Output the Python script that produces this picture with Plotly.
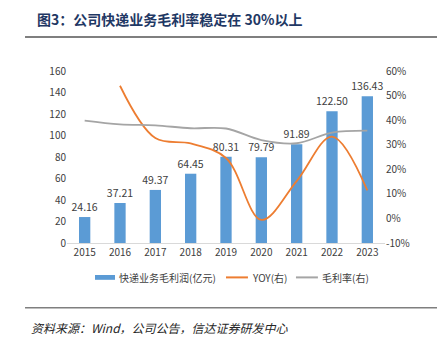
import plotly.graph_objects as go

years = ["2015", "2016", "2017", "2018", "2019", "2020", "2021", "2022", "2023"]
gross_profit = [24.16, 37.21, 49.37, 64.45, 80.31, 79.79, 91.89, 122.50, 136.43]
yoy = [None, 54.0, 32.7, 30.5, 24.6, -0.6, 15.2, 33.3, 11.4]
margin = [39.8, 38.3, 37.9, 36.7, 36.6, 31.9, 30.6, 34.9, 35.7]

left_ticks = [0, 20, 40, 60, 80, 100, 120, 140, 160]
right_ticks = [-10, 0, 10, 20, 30, 40, 50, 60]

series_names = ["快递业务毛利润(亿元)", "YOY(右)", "毛利率(右)"]
series_colors = ["#5B9BD5", "#ED7D31", "#A5A5A5"]

CJK = "Noto Sans CJK SC"
TXT = "#404040"

fig = go.Figure()
fig.add_trace(go.Bar(
    x=years, y=gross_profit, name=series_names[0],
    marker=dict(color=series_colors[0], line=dict(width=0)),
    text=[f"{v:.2f}" for v in gross_profit], textposition="outside",
    textfont=dict(family=CJK, size=10.5, color=TXT), cliponaxis=False,
    constraintext="none", width=0.32,
))
fig.add_trace(go.Scatter(
    x=years, y=yoy, name=series_names[1], yaxis="y2", mode="lines",
    line=dict(color=series_colors[1], width=1.8, shape="spline", smoothing=1.0),
    connectgaps=False,
))
fig.add_trace(go.Scatter(
    x=years, y=margin, name=series_names[2], yaxis="y2", mode="lines",
    line=dict(color=series_colors[2], width=1.8, shape="spline", smoothing=1.0),
))

fig.update_layout(
    width=437, height=346,
    margin=dict(l=67, r=52, t=71, b=103),
    paper_bgcolor="white", plot_bgcolor="white",
    font=dict(family=CJK, size=10, color=TXT),
    showlegend=False,
    xaxis=dict(
        type="category", showgrid=False, showline=True, linecolor="#D9D9D9",
        linewidth=1, ticks="", tickfont=dict(family=CJK, size=10, color=TXT),
    ),
    yaxis=dict(
        range=[0, 160], tickvals=left_ticks, showgrid=False, zeroline=False,
        showline=False, tickfont=dict(family=CJK, size=10, color=TXT),
    ),
    yaxis2=dict(
        overlaying="y", side="right", range=[-10, 60], tickvals=right_ticks,
        ticktext=[f"{t}%" for t in right_ticks], showgrid=False, zeroline=False,
        showline=False, tickfont=dict(family=CJK, size=10, color=TXT),
    ),
)

# legend drawn below the axis: bar swatch plus two line swatches
legend_y = -0.2
fig.add_shape(type="rect", xref="paper", yref="paper",
              x0=0.088, x1=0.151, y0=legend_y - 0.014, y1=legend_y + 0.014,
              fillcolor=series_colors[0], line=dict(width=0))
for x0, color in [(0.50, series_colors[1]), (0.72, series_colors[2])]:
    fig.add_shape(type="line", xref="paper", yref="paper",
                  x0=x0, x1=x0 + 0.069, y0=legend_y, y1=legend_y,
                  line=dict(color=color, width=2))
for x, name in zip([0.158, 0.577, 0.797], series_names):
    fig.add_annotation(xref="paper", yref="paper", x=x, y=legend_y,
                       xanchor="left", yanchor="middle", showarrow=False,
                       text=name, font=dict(family=CJK, size=10, color=TXT))

# header and footer
fig.add_annotation(
    xref="paper", yref="paper", x=-0.1, y=1.0, yshift=52,
    xanchor="left", yanchor="middle", showarrow=False,
    text="<b>图3：公司快递业务毛利率稳定在 30%以上</b>",
    font=dict(family=CJK, size=14, color="#1F3864"),
)
fig.add_shape(type="line", xref="paper", yref="paper",
              x0=-0.132, x1=1.164, y0=1.198, y1=1.198,
              line=dict(color="#7F7F7F", width=2))
fig.add_shape(type="line", xref="paper", yref="paper",
              x0=-0.132, x1=1.164, y0=-0.377, y1=-0.377,
              line=dict(color="#7F7F7F", width=1.5))
fig.add_annotation(
    xref="paper", yref="paper", x=-0.12, y=-0.49,
    xanchor="left", yanchor="middle", showarrow=False,
    text="<i>资料来源：Wind，公司公告，信达证券研发中心</i>",
    font=dict(family=CJK, size=12, color="#262626"),
)

fig.write_html("out.html")
